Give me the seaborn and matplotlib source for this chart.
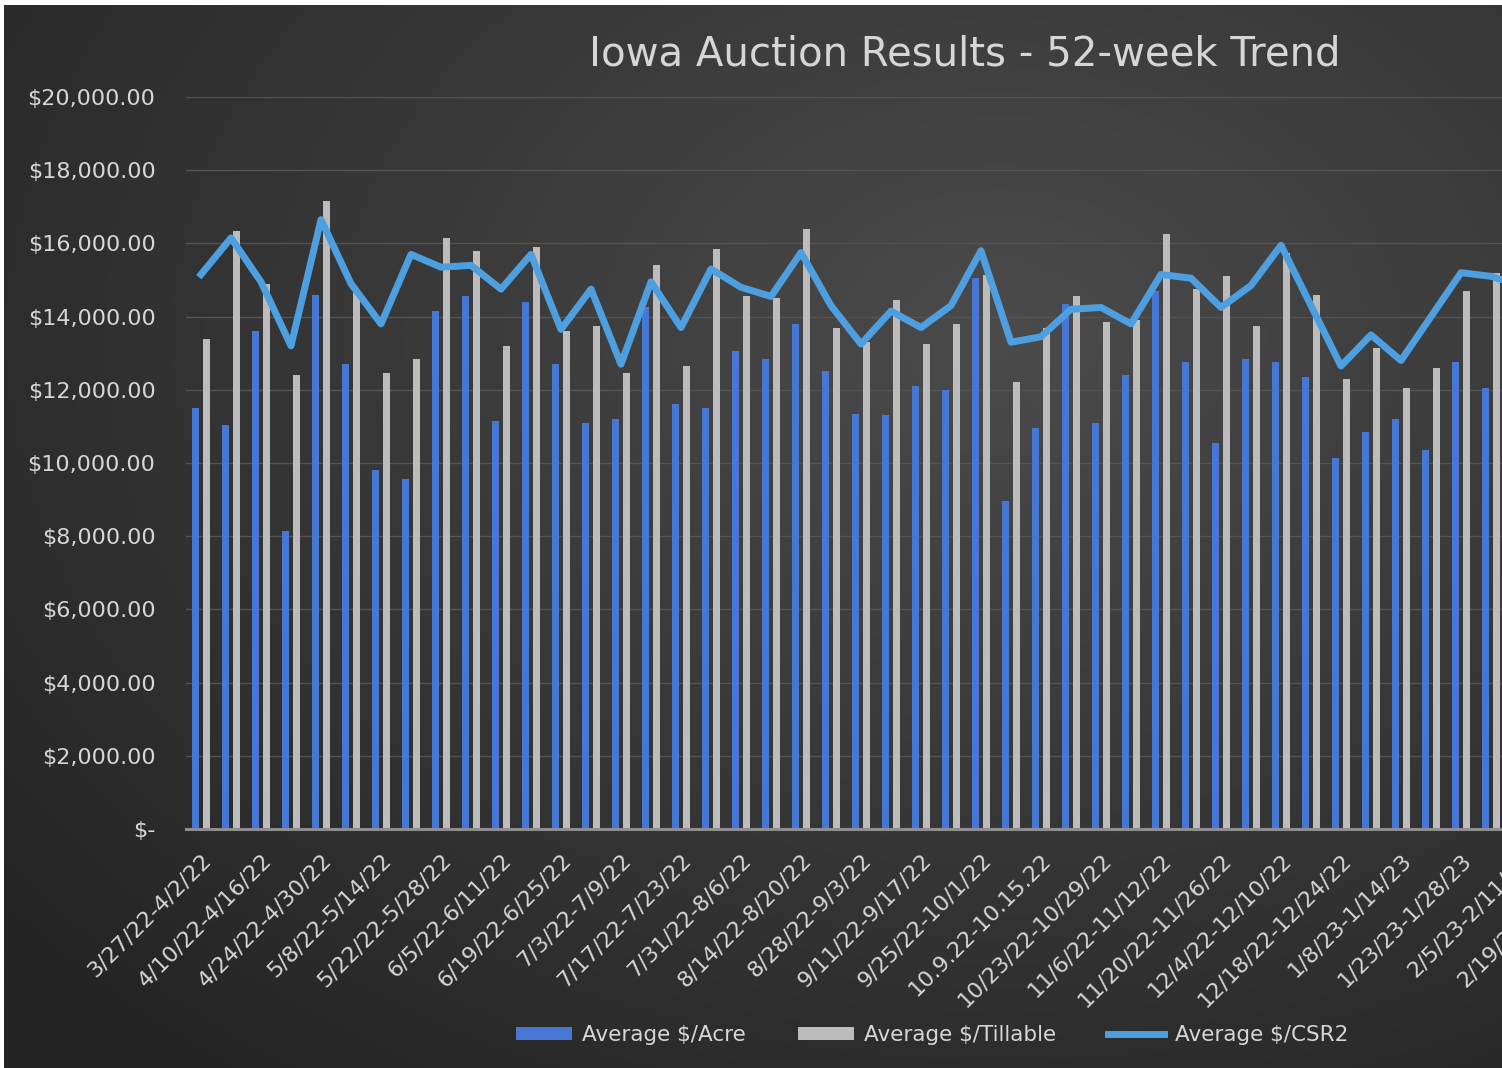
import numpy as np
import pandas as pd
import seaborn as sns
import matplotlib.pyplot as plt
from matplotlib.patches import Patch
from matplotlib.lines import Line2D
from matplotlib.ticker import FuncFormatter

# weekly auction windows (only every other one gets a tick label)
weeks = [
    "3/27/22-4/2/22", "4/3/22-4/9/22", "4/10/22-4/16/22", "4/17/22-4/23/22",
    "4/24/22-4/30/22", "5/1/22-5/7/22", "5/8/22-5/14/22", "5/15/22-5/21/22",
    "5/22/22-5/28/22", "5/29/22-6/4/22", "6/5/22-6/11/22", "6/12/22-6/18/22",
    "6/19/22-6/25/22", "6/26/22-7/2/22", "7/3/22-7/9/22", "7/10/22-7/16/22",
    "7/17/22-7/23/22", "7/24/22-7/30/22", "7/31/22-8/6/22", "8/7/22-8/13/22",
    "8/14/22-8/20/22", "8/21/22-8/27/22", "8/28/22-9/3/22", "9/4/22-9/10/22",
    "9/11/22-9/17/22", "9/18/22-9/24/22", "9/25/22-10/1/22", "10/2/22-10/8/22",
    "10.9.22-10.15.22", "10/16/22-10/22/22", "10/23/22-10/29/22", "10/30/22-11/5/22",
    "11/6/22-11/12/22", "11/13/22-11/19/22", "11/20/22-11/26/22", "11/27/22-12/3/22",
    "12/4/22-12/10/22", "12/11/22-12/17/22", "12/18/22-12/24/22", "1/1/23-1/7/23",
    "1/8/23-1/14/23", "1/15/23-1/22/23", "1/23/23-1/28/23", "1/29/23-2/4/23",
    "2/5/23-2/11/23", "2/12/23-2/18/23", "2/19/23-2/25/23", "2/26/23-3/4/23",
    "3/5/23-3/11/23",
]

avg_acre = [
    11500, 11050, 13600, 8150, 14600, 12700, 9800, 9550, 14150, 14550,
    11150, 14400, 12700, 11100, 11200, 14250, 11600, 11500, 13050, 12850,
    13800, 12500, 11350, 11300, 12100, 12000, 15050, 8950, 10950, 14350,
    11100, 12400, 14700, 12750, 10550, 12850, 12750, 12350, 10150, 10850,
    11200, 10350, 12750, 12050, 12900, 11800, 13100, 12400, 12600,
]

avg_tillable = [
    13400, 16350, 14900, 12400, 17150, 14700, 12450, 12850, 16150, 15800,
    13200, 15900, 13600, 13750, 12450, 15400, 12650, 15850, 14550, 14500,
    16400, 13700, 13300, 14450, 13250, 13800, 15150, 12200, 13700, 14550,
    13850, 13900, 16250, 14750, 15100, 13750, 15750, 14600, 12300, 13150,
    12050, 12600, 14700, 15200, 14900, 14200, 15300, 14600, 15100,
]

avg_csr2 = [
    15150, 16150, 14950, 13200, 16650, 14900, 13800, 15700, 15350, 15400,
    14750, 15700, 13650, 14750, 12700, 14950, 13700, 15300, 14800, 14550,
    15750, 14300, 13250, 14150, 13700, 14300, 15800, 13300, 13450, 14200,
    14250, 13800, 15150, 15050, 14250, 14850, 15950, 14300, 12650, 13500,
    12800, 14000, 15200, 15100, 14850, 14500, 15200, 14700, 15000,
]

series_names = ["Average $/Acre", "Average $/Tillable", "Average $/CSR2"]

BLUE = "#4677d4"
GRAY = "#bcbcbc"
LINE = "#4e9fe0"
TEXT = "#d6d6d6"

W, H = 1502, 1068
fig = plt.figure(figsize=(W / 100, H / 100), dpi=100, facecolor="white")

# dark radial backdrop like the Excel chart style
bg = fig.add_axes([4 / W, 0, 1 - 4 / W, 1 - 5 / H], zorder=-10)
yy, xx = np.mgrid[0:H, 0:W]
r = np.sqrt(((xx - 1000) / 1300) ** 2 + ((yy - 330) / 950) ** 2)
r = np.clip(r, 0, 1)
c_in = np.array([0x4b, 0x4b, 0x4b]) / 255
c_out = np.array([0x24, 0x24, 0x24]) / 255
img = c_in[None, None, :] * (1 - r[..., None]) + c_out[None, None, :] * r[..., None]
bg.imshow(img, aspect="auto")
bg.axis("off")

# plot area runs past the right edge (reference is cropped there)
n = len(weeks)
left = 186 / W
bottom = (H - 829) / H
ax = fig.add_axes([left, bottom, n * 30 / W, 732 / H])
ax.set_facecolor("none")

df = pd.DataFrame({
    "week": weeks * 2,
    "value": avg_acre + avg_tillable,
    "series": [series_names[0]] * n + [series_names[1]] * n,
})

sns.barplot(data=df, x="week", y="value", hue="series",
            palette=[BLUE, GRAY], width=0.67, gap=0.3,
            saturation=1, legend=False, ax=ax, zorder=2)
sns.lineplot(x=weeks, y=avg_csr2, color=LINE, linewidth=5, sort=False,
             ax=ax, zorder=3)

ax.set_ylim(0, 20000)
ax.set_xlim(-0.5, n - 0.5)
ax.set_yticks(range(0, 20001, 2000))
ax.yaxis.set_major_formatter(FuncFormatter(
    lambda v, p: "$-" if v == 0 else f"${v:,.2f}"))
ax.grid(axis="y", color="#535353", linewidth=1.0, zorder=0)
ax.set_axisbelow(True)
for s in ["top", "right", "left"]:
    ax.spines[s].set_visible(False)
ax.spines["bottom"].set_color("#8e8e8e")
ax.spines["bottom"].set_linewidth(2.2)
ax.spines["bottom"].set_zorder(4)

ax.set_xticks(range(0, n, 2))
ax.set_xticklabels(weeks[::2], rotation=45, ha="right",
                   rotation_mode="anchor", fontsize=16, color=TEXT)
ax.tick_params(axis="x", length=0, pad=15)
ax.tick_params(axis="y", length=0, pad=22, labelsize=16, labelcolor=TEXT)
ax.set_xlabel("")
ax.set_ylabel("")

fig.text(965 / W, 1 - 54 / H, "Iowa Auction Results - 52-week Trend",
         ha="center", va="center", fontsize=29, color=TEXT)

handles = [
    Patch(facecolor=BLUE, edgecolor="none"),
    Patch(facecolor=GRAY, edgecolor="none"),
    Line2D([], [], color=LINE, linewidth=5),
]
fig.legend(handles, series_names, loc="center",
           bbox_to_anchor=(932 / W, 1 - 1035 / H), ncol=3, frameon=False,
           fontsize=15.5, labelcolor=TEXT, handlelength=2.6, handleheight=0.6,
           columnspacing=2.4, handletextpad=0.5)

fig.savefig("out.png", dpi=100, facecolor=fig.get_facecolor())
